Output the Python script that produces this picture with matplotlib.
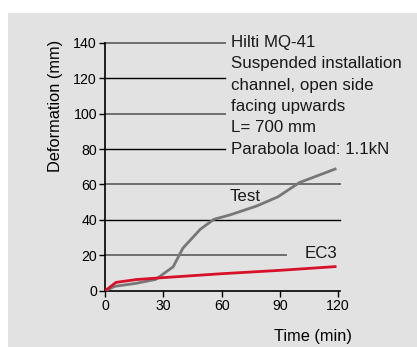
"""
Deformation vs time for the Hilti MQ-41 channel under fire (test vs EC3).
"""

import matplotlib.pyplot as plt
from matplotlib.patches import Rectangle

plt.rcParams["font.family"] = ["Liberation Sans", "DejaVu Sans"]

# data
test_time = [0, 5, 16, 26, 35, 40, 49, 56, 64, 78, 89, 100, 118.5]
test_defo = [0, 2.5, 4.2, 6.4, 13.5, 24, 34.7, 40.3, 42.7, 47.8, 53, 61, 68.7]

ec3_time = [0, 5.5, 16, 30, 60, 90, 118.5]
ec3_defo = [0, 4.7, 6.3, 7.4, 9.6, 11.5, 13.6]

x_ticks = [0, 30, 60, 90, 120]
y_ticks = [0, 20, 40, 60, 80, 100, 120, 140]

# horizontal guide lines: level, right end (min), colour
guide_levels = [140, 120, 100, 80, 60, 40, 20]
guide_ends = [61.7, 61.7, 61.7, 61.7, 121, 121, 93.2]
guide_colors = ["#6e6e6e", "black", "#6e6e6e", "black", "#6e6e6e", "black", "#6e6e6e"]

info_lines = [
    "Hilti MQ-41",
    "Suspended installation",
    "channel, open side",
    "facing upwards",
    "L= 700 mm",
    "Parabola load: 1.1kN",
]

BG = "#e2e2e2"


def main():
    fig = plt.figure(figsize=(4.17, 3.47), dpi=100)
    fig.patch.set_facecolor("white")
    fig.add_artist(Rectangle((8 / 417, 0), 1, 1 - 13 / 347, transform=fig.transFigure,
                             facecolor=BG, edgecolor="none", zorder=0))

    ax = fig.add_axes([0.2525, 0.1622, 0.5628, 0.7147])
    ax.set_facecolor("none")
    ax.set_xlim(0, 121)
    ax.set_ylim(0, 140)

    for level, end, col in zip(guide_levels, guide_ends, guide_colors):
        lw = 1.4 if col != "black" else 1.0
        ax.plot([0, end], [level, level], color=col, lw=lw, zorder=1, clip_on=False)

    ax.plot(test_time, test_defo, color="#777777", lw=2.0, zorder=3)
    ax.plot(ec3_time, ec3_defo, color="#d7112a", lw=2.0, zorder=4)

    ax.text(64, 53, "Test", fontsize=12.2, ha="left", va="center", color="#1a1a1a")
    ax.text(119.5, 21, "EC3", fontsize=12.2, ha="right", va="center", color="#1a1a1a")

    for i, line in enumerate(info_lines):
        ax.text(65, 140 - 12 * i, line, fontsize=12.2, ha="left", va="center",
                color="#1a1a1a", clip_on=False)

    for side in ["top", "right"]:
        ax.spines[side].set_visible(False)
    ax.spines["left"].set_linewidth(1.2)
    ax.spines["bottom"].set_linewidth(1.2)
    ax.set_xticks(x_ticks)
    ax.set_yticks(y_ticks)
    ax.tick_params(length=4, width=1.0, labelsize=10.2, colors="black", pad=2)

    ax.set_ylabel("Deformation (mm)", fontsize=11.8, loc="top")
    ax.yaxis.set_label_coords(-0.18, 1.01)
    ax.text(1.05, -0.185, "Time (min)", transform=ax.transAxes, fontsize=11.8,
            ha="right", va="center")

    fig.savefig("out.png", dpi=100, facecolor="white")
    plt.close(fig)


if __name__ == "__main__":
    main()
